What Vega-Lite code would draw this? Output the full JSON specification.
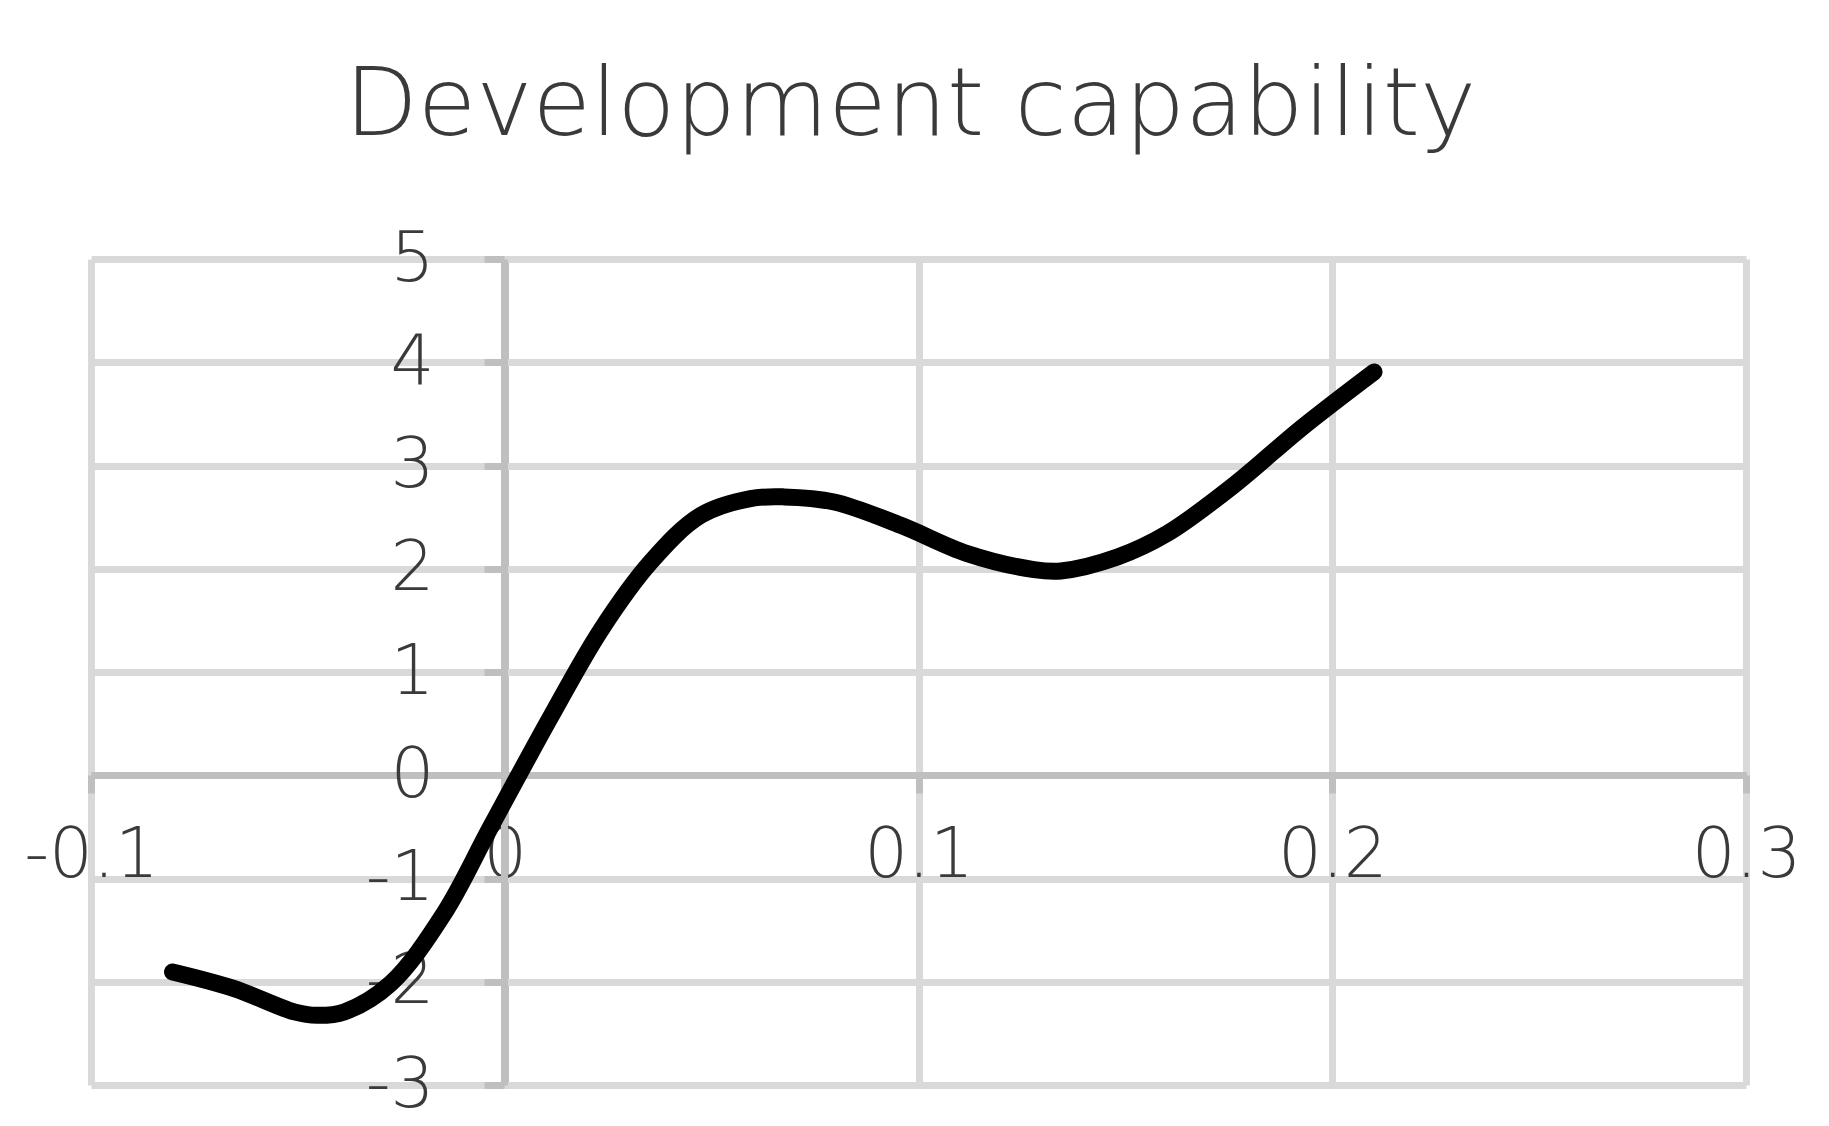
{
  "$schema": "https://vega.github.io/schema/vega-lite/v6.json",
  "autosize": {"type": "none"},
  "width": 1655,
  "height": 826,
  "padding": {"left": 91, "top": 259, "right": 83, "bottom": 41},
  "background": "white",
  "title": {
    "text": "Development capability",
    "font": "DejaVu Sans",
    "fontSize": 95,
    "fontWeight": 300,
    "color": "#3a3a3a",
    "anchor": "middle",
    "baseline": "alphabetic",
    "offset": -5,
    "dx": -8
  },
  "config": {"view": {"stroke": null}},
  "data": {
    "values": [
      {"x": -0.0803, "y": -1.905},
      {"x": -0.0654, "y": -2.066},
      {"x": -0.0509, "y": -2.292},
      {"x": -0.0453, "y": -2.325},
      {"x": -0.0388, "y": -2.292},
      {"x": -0.0276, "y": -2.018},
      {"x": -0.0147, "y": -1.34},
      {"x": -0.0034, "y": -0.5},
      {"x": 0.0111, "y": 0.565},
      {"x": 0.0232, "y": 1.404},
      {"x": 0.0353, "y": 2.066},
      {"x": 0.0474, "y": 2.518},
      {"x": 0.0594, "y": 2.68},
      {"x": 0.0675, "y": 2.696},
      {"x": 0.0796, "y": 2.647},
      {"x": 0.0957, "y": 2.421},
      {"x": 0.1118, "y": 2.147},
      {"x": 0.1279, "y": 1.992},
      {"x": 0.1344, "y": 1.979},
      {"x": 0.1481, "y": 2.114},
      {"x": 0.1601, "y": 2.341},
      {"x": 0.1762, "y": 2.809},
      {"x": 0.1924, "y": 3.358},
      {"x": 0.2101, "y": 3.906}
    ]
  },
  "mark": {
    "type": "line",
    "interpolate": "catmull-rom",
    "stroke": "black",
    "strokeWidth": 17,
    "strokeCap": "round",
    "strokeJoin": "round"
  },
  "encoding": {
    "x": {
      "field": "x",
      "type": "quantitative",
      "scale": {"domain": [-0.1, 0.3], "nice": false, "zero": false},
      "axis": {
        "title": null,
        "values": [-0.1, 0, 0.1, 0.2, 0.3],
        "offset": -310,
        "domainColor": "#bfbfbf",
        "domainWidth": 7,
        "tickColor": "#bfbfbf",
        "tickWidth": 7,
        "tickSize": 18,
        "grid": true,
        "gridColor": {"condition": {"test": "datum.value === 0", "value": "#bfbfbf"}, "value": "#d9d9d9"},
        "gridWidth": 7,
        "labelFont": "DejaVu Sans",
        "labelFontSize": 69,
        "labelFontWeight": 300,
        "labelColor": "#3a3a3a",
        "labelPadding": 28,
        "labelOverlap": false,
        "labelFlush": false,
        "labelBound": false,
        "labelExpr": "replace(format(datum.value, '~g'), '\u2212', '-')",
        "zindex": 0
      }
    },
    "y": {
      "field": "y",
      "type": "quantitative",
      "scale": {"domain": [-3, 5], "nice": false, "zero": false},
      "axis": {
        "title": null,
        "values": [-3, -2, -1, 0, 1, 2, 3, 4, 5],
        "offset": -413,
        "domainColor": "#bfbfbf",
        "domainWidth": 7,
        "tickColor": "#bfbfbf",
        "tickWidth": 7,
        "tickSize": 20,
        "grid": true,
        "gridColor": {"condition": {"test": "datum.value === 0", "value": "#bfbfbf"}, "value": "#d9d9d9"},
        "gridWidth": 7,
        "labelFont": "DejaVu Sans",
        "labelFontSize": 69,
        "labelFontWeight": 300,
        "labelColor": "#3a3a3a",
        "labelPadding": 50,
        "labelOverlap": false,
        "labelFlush": false,
        "labelBound": false,
        "labelExpr": "replace(format(datum.value, '~g'), '\u2212', '-')",
        "zindex": 0
      }
    }
  }
}
